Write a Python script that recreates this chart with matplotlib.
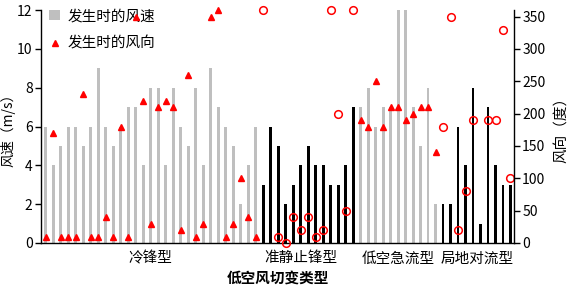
import numpy as np
import matplotlib
matplotlib.use("Agg")
import matplotlib.pyplot as plt
from matplotlib.patches import Patch
from matplotlib.lines import Line2D

plt.rcParams['font.family'] = ['Noto Sans CJK SC', 'DejaVu Sans']

# wind speed at event time (m/s), grouped by shear type
speed_cold_front = [6, 4, 5, 6, 6, 5, 6, 9, 6, 5, 6, 7, 7, 4, 8, 8, 4, 8, 6, 5, 8, 4, 9, 7, 6, 5, 2, 4, 6]
speed_stationary = [3, 6, 5, 2, 3, 4, 5, 4, 4, 3, 3, 4, 7]
speed_jet = [7, 8, 6, 7, 7, 12, 12, 7, 5, 8, 2]
speed_convective = [2, 2, 6, 4, 8, 1, 7, 4, 3, 3]

# wind direction at event time (degrees), nan = not shown
dir_cold_front = [10, 170, 10, 10, 10, 230, 10, 10, 40, 10, 180, 10, 350, 220, 30, 210, 220, 210, 20, 260,
                  10, 30, 350, 360, 10, 30, 100, 40, 10]
dir_stationary = [360, np.nan, 10, 0, 40, 20, 40, 10, 20, 360, 200, 50, 360]
dir_jet = [190, 180, 250, 180, 210, 210, 190, 200, 210, 210, 140]
dir_convective = [180, 350, 20, 80, 190, np.nan, 190, 190, 330, 100]

categories = ["冷锋型", "准静止锋型", "低空急流型", "局地对流型"]
speed_groups = [speed_cold_front, speed_stationary, speed_jet, speed_convective]
dir_groups = [dir_cold_front, dir_stationary, dir_jet, dir_convective]

fig = plt.figure(figsize=(5.67, 2.91), dpi=100)
ax = fig.add_axes([0.0723, 0.165, 0.834, 0.80])
ax2 = ax.twinx()

start = 0
label_pos = []
for i, (spd, drc) in enumerate(zip(speed_groups, dir_groups)):
    x = np.arange(start, start + len(spd))
    gray = (i % 2 == 0)
    ax.bar(x, spd, width=0.38, color="#bfbfbf" if gray else "black", zorder=2)
    if gray:
        ax2.plot(x, drc, linestyle="none", marker="^", markersize=4.5,
                 color="red", clip_on=False)
    else:
        ax2.plot(x, drc, linestyle="none", marker="o", markersize=5.5,
                 markerfacecolor="none", markeredgecolor="red", markeredgewidth=1.1, clip_on=False)
    label_pos.append(x.mean())
    start += len(spd)
label_pos[1] -= 1

ax.set_xlim(-0.65, start - 0.55)
ax.set_ylim(0, 12)
ax2.set_ylim(0, 360)
ax.set_yticks(range(0, 13, 2))
ax2.set_yticks(range(0, 351, 50))

ax.set_xticks(label_pos)
ax.set_xticklabels(categories, fontsize=10.5)
ax.tick_params(axis="x", length=0, pad=6)
ax.tick_params(axis="y", labelsize=10, length=4, width=1, pad=2)
ax2.tick_params(axis="y", labelsize=10, length=4, width=1, pad=2)

ax.set_xlabel("低空风切变类型", fontsize=10.5, fontweight="bold", labelpad=3)
ax.set_ylabel("风速（m/s）", fontsize=10)
ax.yaxis.set_label_coords(-0.055, 0.5)
ax2.set_ylabel("风向（度）", fontsize=10.5)
ax2.yaxis.set_label_coords(1.085, 0.5)

for a in (ax, ax2):
    a.spines["top"].set_visible(False)
    for s in ("left", "right", "bottom"):
        a.spines[s].set_linewidth(1.0)
ax.spines["right"].set_visible(False)
ax2.spines["left"].set_visible(False)
ax2.spines["bottom"].set_visible(False)

handles = [Patch(facecolor="#bfbfbf", edgecolor="none"),
           Line2D([], [], linestyle="none", marker="^", markersize=4.5, color="red")]
ax.legend(handles, ["发生时的风速", "发生时的风向"], loc="upper left", frameon=False,
          fontsize=10.5, handlelength=0.8, handletextpad=0.5, labelspacing=0.95,
          borderaxespad=0.0, bbox_to_anchor=(0.004, 1.03))

fig.savefig("out.png", dpi=100)
